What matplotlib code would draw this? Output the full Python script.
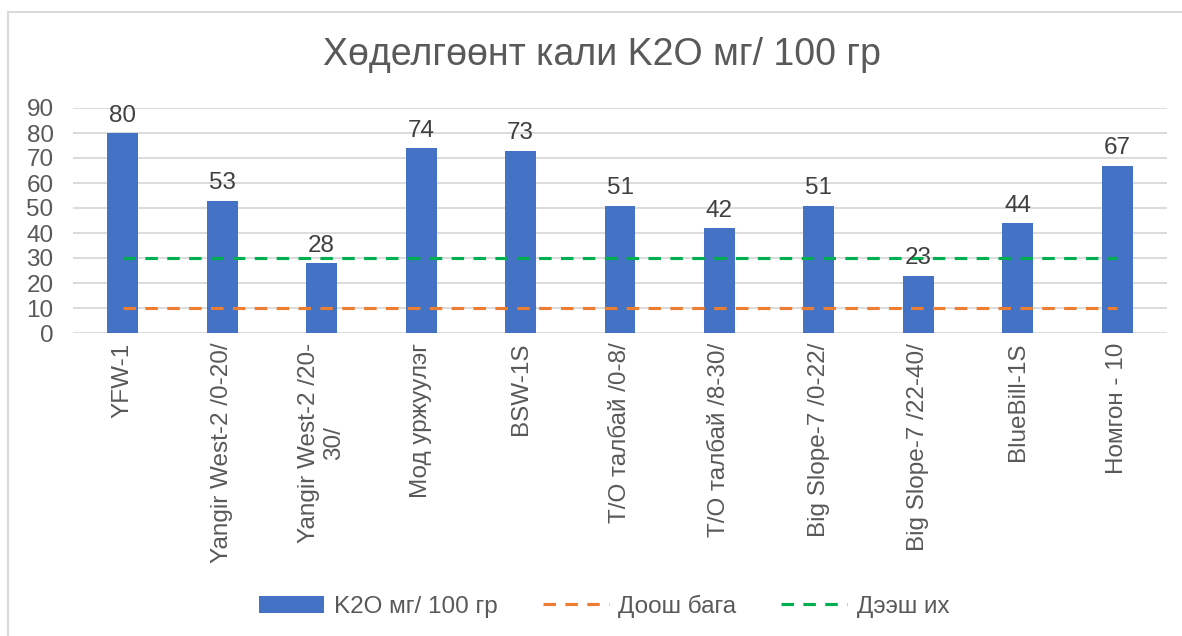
import numpy as np
import matplotlib.pyplot as plt
from matplotlib.lines import Line2D

plt.rcParams['font.family'] = ['Liberation Sans', 'DejaVu Sans']

# data
categories = ['YFW-1', 'Yangir West-2 /0-20/', 'Yangir West-2 /20-\n30/', 'Мод уржуулэг',
              'BSW-1S', 'Т/О талбай /0-8/', 'Т/О талбай /8-30/', 'Big Slope-7 /0-22/',
              'Big Slope-7 /22-40/', 'BlueBill-1S', 'Номгон - 10']
k2o = [80, 53, 28, 74, 73, 51, 42, 51, 23, 44, 67]
low = [10] * len(categories)     # Доош бага
high = [30] * len(categories)    # Дээш их
yticks = list(range(0, 100, 10))

W, H = 1182, 636
text_col = '#595959'
grid_col = '#D9D9D9'
fs = 17.5

fig = plt.figure(figsize=(W / 100, H / 100), dpi=100)
ax = fig.add_axes([73 / W, 1 - 333 / H, (1167 - 73) / W, (333 - 108) / H])

x = np.arange(len(categories))
bars = ax.bar(x, k2o, width=0.31, color='#4472C4', zorder=2, label='K2O мг/ 100 гр')
l1, = ax.plot(x, low, color='#ED7D31', lw=2.25, ls=(0, (4, 3)), zorder=3, label='Доош бага')
l2, = ax.plot(x, high, color='#00B050', lw=2.25, ls=(0, (4, 3)), zorder=3, label='Дээш их')

for xi, v in zip(x, k2o):
    ax.text(xi, v + 2.5, str(v), ha='center', va='bottom', fontsize=fs, color='#404040')

ax.set_xlim(-0.5, len(categories) - 0.5)
ax.set_ylim(0, 90)
ax.set_yticks(yticks)
ax.yaxis.grid(True, color=grid_col, lw=1.3, zorder=0)
for s in ax.spines.values():
    s.set_visible(False)
ax.tick_params(axis='both', length=0, labelsize=fs, labelcolor=text_col)
ax.tick_params(axis='y', pad=14)
ax.set_xticks(x)
ax.set_xticklabels(categories, rotation=90, ha='center', va='top', multialignment='center')
ax.tick_params(axis='x', pad=7)

fig.text(602 / W, 1 - 55 / H, 'Хөделгөөнт кали K2O мг/ 100 гр', ha='center', va='center',
         fontsize=27, color=text_col)

fig.legend([bars, l1, l2], ['K2O мг/ 100 гр', 'Доош бага', 'Дээш их'], loc='center',
           bbox_to_anchor=(604 / W, 1 - 606 / H), ncol=3,
           frameon=False, fontsize=fs, handlelength=2.7, handletextpad=0.4, columnspacing=1.85,
           labelcolor=text_col)

# chart area border (only top and left visible)
fig.add_artist(Line2D([8 / W, 1], [1 - 12 / H, 1 - 12 / H], color=grid_col, lw=1.5))
fig.add_artist(Line2D([8 / W, 8 / W], [0, 1 - 12 / H], color=grid_col, lw=1.5))

fig.savefig('out.png', dpi=100, facecolor='white')
